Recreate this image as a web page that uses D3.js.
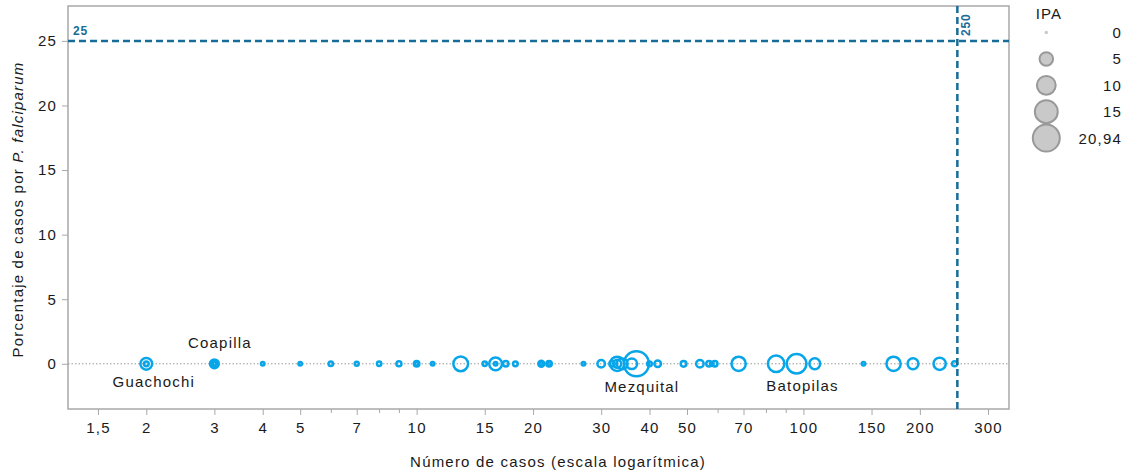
<!DOCTYPE html>
<html lang="es">
<head>
<meta charset="utf-8">
<script src="https://cdn.jsdelivr.net/npm/d3@7"></script>
<style>
  html, body { margin: 0; padding: 0; background: #fff; }
  svg { display: block; font-family: "Liberation Sans", Arial, Helvetica, sans-serif; }
  svg text { letter-spacing: 1.2px; }
  svg text.ref { letter-spacing: 0.8px; }
</style>
</head>
<body>
<svg id="chart" width="1130" height="476"></svg>
<script>
// Municipios: número de casos, IPA y porcentaje de casos por P. falciparum
const casos = [2, 2, 3, 3, 3, 4, 5, 6, 7, 8, 9, 10, 10, 11, 13, 15, 16, 16, 17, 18,
  21, 21, 22, 22, 27, 30, 32, 33, 33, 34, 36, 37, 40, 42, 49, 54, 57, 58, 59, 68,
  85, 96, 107, 143, 171, 192, 225, 246];
const ipa = [3.7, 0.3, 1.9, 0.4, 0, 0, 0, 0.25, 0.1, 0.2, 0.4, 0.5, 0, 0, 6, 0.2, 4.4, 0, 0.5, 0.3,
  0.7, 0, 0.5, 0, 0, 1.3, 0.5, 5.6, 1.5, 3, 2.9, 18, 0.3, 0.9, 0.6, 1.3, 0.5, 0, 0.5, 5.6,
  7.6, 10.8, 3.1, 0, 5.6, 3.1, 4, 0.4];
const pctFalciparum = [0, 0, 0, 0, 0, 0, 0, 0, 0, 0, 0, 0, 0, 0, 0, 0, 0, 0, 0, 0,
  0, 0, 0, 0, 0, 0, 0, 0, 0, 0, 0, 0, 0, 0, 0, 0, 0, 0, 0, 0,
  0, 0, 0, 0, 0, 0, 0, 0];
const municipio = ["Guachochi", "", "Coapilla", "", "", "", "", "", "", "", "", "", "", "", "", "", "", "", "", "",
  "", "", "", "", "", "", "", "", "", "", "", "Mezquital", "", "", "", "", "", "", "", "",
  "", "Batopilas", "", "", "", "", "", ""];

const xTicks = [1.5, 2, 3, 4, 5, 7, 10, 15, 20, 30, 40, 50, 70, 100, 150, 200, 300];
const xMinorTicks = [6, 8, 9, 60, 80, 90];
const yTicks = [0, 5, 10, 15, 20, 25];
const legendValues = [0, 5, 10, 15, 20.94];
const refCasos = 250;
const refPct = 25;

const fmt = d3.formatLocale({ decimal: ",", thousands: ".", grouping: [3], currency: ["$", ""] });
const fmtTick = v => fmt.format("~g")(v);

// label placement around each named point
const labelOffset = {
  Guachochi: { dx: 7.5, dy: 23 },
  Coapilla: { dx: 5.5, dy: -15.7 },
  Mezquital: { dx: 5.5, dy: 28 },
  Batopilas: { dx: 6, dy: 27 }
};

const ptColor = "#08a6e9";
const refColor = "#176d98";
const axisGray = "#a8a8a8";
const textColor = "#1a1a1a";

const plot = { left: 68, right: 1009, top: 6, bottom: 409 };

const svg = d3.select("#chart");

const x = d3.scaleLog().domain([1.255, 340]).range([plot.left, plot.right]);
const y = d3.scaleLinear().domain([-3.5, 27.7]).range([plot.bottom, plot.top]);
const area = d3.scaleLinear().domain([0, 20.94]).range([3, 182]);
const rad = v => Math.sqrt(area(v));

const data = casos.map((c, i) => ({ casos: c, ipa: ipa[i], pct: pctFalciparum[i], nombre: municipio[i] }));

// frame
svg.append("rect")
  .attr("x", plot.left).attr("y", plot.top)
  .attr("width", plot.right - plot.left).attr("height", plot.bottom - plot.top)
  .attr("fill", "none").attr("stroke", axisGray).attr("stroke-width", 1.5);

// x axis
const xAxis = svg.append("g")
  .attr("transform", `translate(0,${plot.bottom})`)
  .call(d3.axisBottom(x).tickValues(xTicks).tickFormat(fmtTick).tickSize(6).tickPadding(7));
xAxis.select(".domain").remove();
xAxis.selectAll(".tick line").attr("stroke", axisGray);
xAxis.selectAll(".tick text").attr("fill", textColor).style("font-size", "15px");

const xMinor = svg.append("g")
  .attr("transform", `translate(0,${plot.bottom})`)
  .call(d3.axisBottom(x).tickValues(xMinorTicks).tickFormat("").tickSize(4));
xMinor.select(".domain").remove();
xMinor.selectAll(".tick line").attr("stroke", axisGray);

// y axis
const yAxis = svg.append("g")
  .attr("transform", `translate(${plot.left},0)`)
  .call(d3.axisLeft(y).tickValues(yTicks).tickFormat(fmtTick).tickSize(6).tickPadding(5));
yAxis.select(".domain").remove();
yAxis.selectAll(".tick line").attr("stroke", axisGray);
yAxis.selectAll(".tick text").attr("fill", textColor).style("font-size", "15px");

// axis titles
svg.append("text")
  .attr("x", 558).attr("y", 467)
  .attr("text-anchor", "middle").attr("fill", textColor).style("font-size", "15px")
  .text("Número de casos (escala logarítmica)");

const yTitle = svg.append("text")
  .attr("transform", `translate(23,${(plot.top + plot.bottom) / 2 + 2}) rotate(-90)`)
  .attr("text-anchor", "middle").attr("fill", textColor).style("font-size", "15px");
yTitle.append("tspan").text("Porcentaje de casos por ");
yTitle.append("tspan").attr("font-style", "italic").text("P. falciparum");

// zero baseline
svg.append("line")
  .attr("x1", plot.left).attr("x2", plot.right)
  .attr("y1", y(0)).attr("y2", y(0))
  .attr("stroke", "#9a9a9a").attr("stroke-width", 1).attr("stroke-dasharray", "1.5,2");

// points
const pts = data.slice().sort((a, b) => b.ipa - a.ipa);
svg.append("g").selectAll("circle")
  .data(pts)
  .join("circle")
  .attr("cx", d => x(d.casos))
  .attr("cy", d => y(d.pct))
  .attr("r", d => rad(d.ipa))
  .attr("fill", "none")
  .attr("stroke", ptColor)
  .attr("stroke-width", 2.5);

// point labels
svg.append("g").selectAll("text")
  .data(data.filter(d => d.nombre))
  .join("text")
  .attr("x", d => x(d.casos) + labelOffset[d.nombre].dx)
  .attr("y", d => y(d.pct) + labelOffset[d.nombre].dy)
  .attr("text-anchor", "middle").attr("fill", textColor).style("font-size", "15px")
  .text(d => d.nombre);

// reference lines
svg.append("line")
  .attr("x1", plot.left).attr("x2", plot.right)
  .attr("y1", y(refPct)).attr("y2", y(refPct))
  .attr("stroke", refColor).attr("stroke-width", 2.5).attr("stroke-dasharray", "7,4");
svg.append("line")
  .attr("x1", x(refCasos)).attr("x2", x(refCasos))
  .attr("y1", plot.top).attr("y2", plot.bottom)
  .attr("stroke", refColor).attr("stroke-width", 2.5).attr("stroke-dasharray", "7,4");

svg.append("text")
  .attr("class", "ref")
  .attr("x", plot.left + 5).attr("y", y(refPct) - 6)
  .attr("fill", refColor).attr("font-weight", "bold").style("font-size", "12px")
  .text(fmtTick(refPct));
svg.append("text")
  .attr("class", "ref")
  .attr("transform", `translate(${x(refCasos) + 13},${plot.top + 30}) rotate(-90)`)
  .attr("fill", refColor).attr("font-weight", "bold").style("font-size", "12px")
  .text(fmtTick(refCasos));

// size legend
const legend = svg.append("g");
legend.append("text")
  .attr("x", 1049).attr("y", 19)
  .attr("text-anchor", "middle").attr("fill", textColor).style("font-size", "15px")
  .text("IPA");
const rows = legend.selectAll("g.row")
  .data(legendValues)
  .join("g")
  .attr("class", "row")
  .attr("transform", (d, i) => `translate(0,${32.5 + i * 26.4})`);
rows.append("circle")
  .attr("cx", 1046.3).attr("cy", 0)
  .attr("r", d => rad(d))
  .attr("fill", "#c9c9c9")
  .attr("stroke", "#999")
  .attr("stroke-width", d => d === 0 ? 0 : 2);
rows.append("text")
  .attr("x", 1122).attr("y", 0).attr("dy", "0.36em")
  .attr("text-anchor", "end").attr("fill", textColor).style("font-size", "15px")
  .text(d => fmtTick(d));
</script>
</body>
</html>
